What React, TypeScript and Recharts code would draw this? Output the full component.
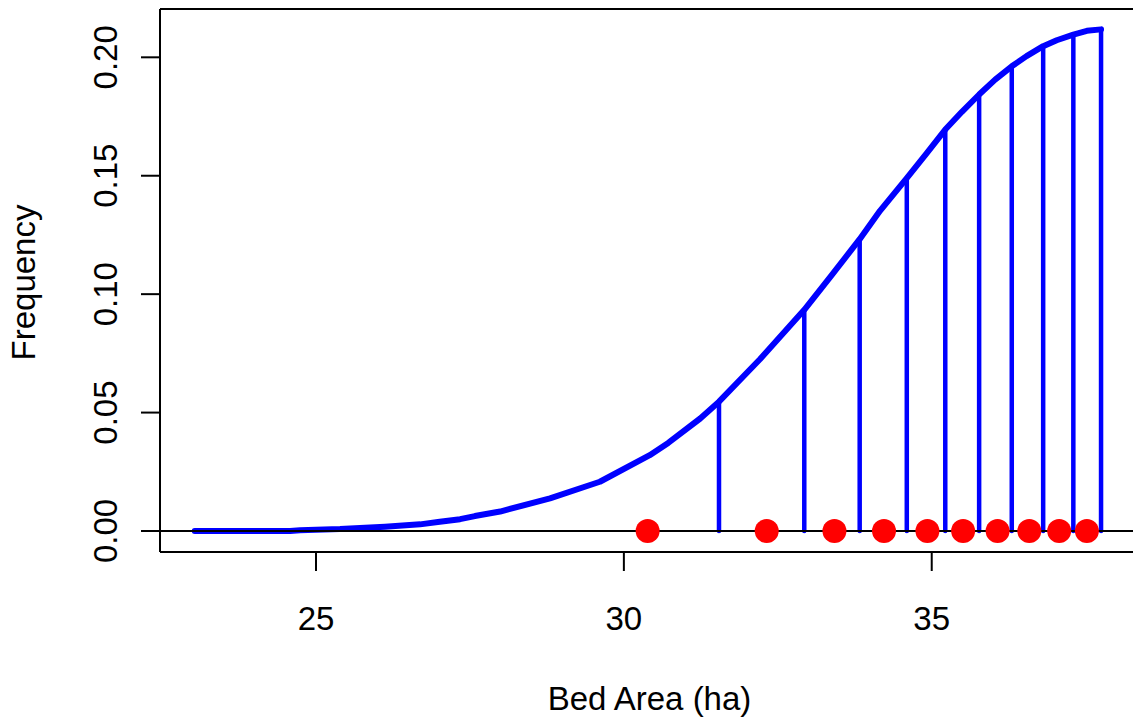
import React from 'react';
import { ComposedChart, Line, Scatter, XAxis, YAxis, ReferenceLine, Label } from 'recharts';

// Curve (cumulative frequency)
const curveX = [23.03, 24.58, 24.74, 25.39, 26.12, 26.69, 27.01, 27.34, 27.58, 27.99, 28.8, 29.61, 30.42, 30.72, 31.24, 31.545, 32.21, 32.93, 33.35, 33.83, 34.16, 34.595, 34.92, 35.22, 35.49, 35.77, 36.03, 36.3, 36.54, 36.81, 37.03, 37.3, 37.52, 37.75];
const curveY = [0, 0, 0.0003, 0.0008, 0.0018, 0.0028, 0.0039, 0.005, 0.0063, 0.0082, 0.0138, 0.0208, 0.032, 0.0372, 0.0475, 0.0546, 0.0725, 0.0934, 0.1072, 0.1232, 0.1352, 0.149, 0.1595, 0.1695, 0.177, 0.1843, 0.1906, 0.1962, 0.2005, 0.2047, 0.2072, 0.2096, 0.2112, 0.2118];

// Vertical stems
const stemX = [31.545, 32.93, 33.83, 34.595, 35.22, 35.77, 36.3, 36.81, 37.3, 37.75];
const stemY = [0.0546, 0.0934, 0.123, 0.149, 0.1695, 0.1843, 0.1962, 0.2047, 0.2096, 0.2118];

// Red points on the baseline
const pointX = [30.386, 32.32, 33.42, 34.225, 34.93, 35.51, 36.07, 36.585, 37.07, 37.52];

const xTicks = [25, 30, 35];
const yTicks = [0, 0.05, 0.1, 0.15, 0.2];
const xDomain: [number, number] = [22.466, 38.269];
const yDomain: [number, number] = [-0.00887, 0.2204];

const curveData = curveX.map((x, i) => ({ x, y: curveY[i] }));
const pointData = pointX.map((x) => ({ x, y: 0 }));

const FONT = '"Liberation Sans", Arial, Helvetica, sans-serif';
const FS = 33;

const XTick = (props: any) => {
  const { x, y, payload } = props;
  return (
    <text x={x} y={y + 59} textAnchor="middle" fontSize={FS} fontFamily={FONT} fill="#000">
      {String(payload.value)}
    </text>
  );
};

const YTick = (props: any) => {
  const { x, y, payload } = props;
  const bx = x - 24;
  return (
    <text x={bx} y={y} transform={`rotate(-90 ${bx} ${y})`} textAnchor="middle" fontSize={FS} fontFamily={FONT} fill="#000">
      {Number(payload.value).toFixed(2)}
    </text>
  );
};

export default function App() {
  return (
    <div style={{ position: 'absolute', left: 0, top: 0, width: 1133, height: 721, background: '#fff' }}>
      <ComposedChart width={1133} height={721} margin={{ top: 9, right: 0, bottom: 0, left: 0 }}>
        <XAxis
          type="number"
          dataKey="x"
          domain={xDomain}
          allowDataOverflow
          ticks={xTicks}
          tick={<XTick />}
          tickSize={19}
          tickMargin={0}
          height={169}
          axisLine={{ stroke: '#000', strokeWidth: 2 }}
          tickLine={{ stroke: '#000', strokeWidth: 2 }}
        >
          <Label
            content={(p: any) => {
              const vb = p.viewBox;
              return (
                <text x={vb.x + vb.width / 2 + 3} y={vb.y + 158} textAnchor="middle" fontSize={FS} fontFamily={FONT} fill="#000">
                  Bed Area (ha)
                </text>
              );
            }}
          />
        </XAxis>
        <YAxis
          type="number"
          domain={yDomain}
          allowDataOverflow
          ticks={yTicks}
          tick={<YTick />}
          tickSize={19}
          tickMargin={0}
          width={160}
          axisLine={{ stroke: '#000', strokeWidth: 2 }}
          tickLine={{ stroke: '#000', strokeWidth: 2 }}
        >
          <Label
            content={(p: any) => {
              const vb = p.viewBox;
              const cx = 35;
              const cy = vb.y + vb.height / 2 + 2;
              return (
                <text x={cx} y={cy} transform={`rotate(-90 ${cx} ${cy})`} textAnchor="middle" fontSize={FS} fontFamily={FONT} fill="#000">
                  Frequency
                </text>
              );
            }}
          />
        </YAxis>
        <ReferenceLine y={yDomain[1]} stroke="#000" strokeWidth={2} ifOverflow="visible" />
        <Line
          data={curveData}
          dataKey="y"
          type="linear"
          stroke="#0000ff"
          strokeWidth={6}
          dot={false}
          strokeLinecap="round"
          strokeLinejoin="round"
          isAnimationActive={false}
        />
        {stemX.map((sx, i) => (
          <ReferenceLine
            key={i}
            segment={[{ x: sx, y: 0 }, { x: sx, y: stemY[i] }]}
            stroke="#0000ff"
            strokeWidth={4.5}
            strokeLinecap="round"
          />
        ))}
        <ReferenceLine y={0} stroke="#000" strokeWidth={2} />
        <Scatter
          data={pointData}
          dataKey="y"
          isAnimationActive={false}
          shape={(p: any) => <circle cx={p.cx} cy={p.cy} r={12} fill="#ff0000" />}
        />
      </ComposedChart>
    </div>
  );
}
